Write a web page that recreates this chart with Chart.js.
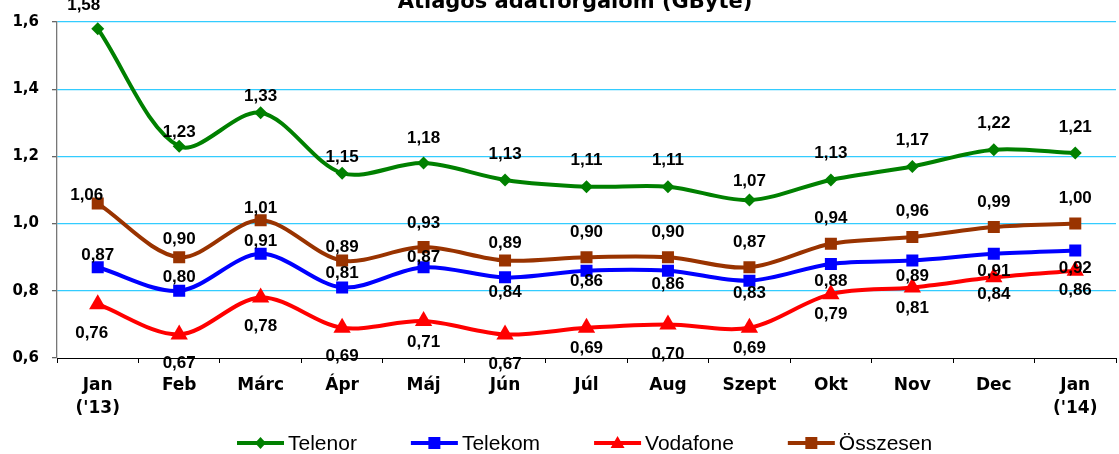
<!DOCTYPE html>
<html>
<head>
<meta charset="utf-8">
<script src="https://cdn.jsdelivr.net/npm/chart.js@4/dist/chart.umd.min.js"></script>
<style>
  html,body{margin:0;padding:0;background:#fff;overflow:hidden;}
  #wrap{position:relative;width:1126px;height:454px;}
</style>
</head>
<body>
<div id="wrap"><canvas id="c"></canvas></div>
<script>
/* ---- data ---- */
const chartTitle = 'Átlagos adatforgalom (GByte)';
const months = [['Jan',"('13)"],'Feb','Márc','Ápr','Máj','Jún','Júl','Aug','Szept','Okt','Nov','Dec',['Jan',"('14)"]];
const telenor  = [1.58,1.23,1.33,1.15,1.18,1.13,1.11,1.11,1.07,1.13,1.17,1.22,1.21];
const telekom  = [0.87,0.80,0.91,0.81,0.87,0.84,0.86,0.86,0.83,0.88,0.89,0.91,0.92];
const vodafone = [0.76,0.67,0.78,0.69,0.71,0.67,0.69,0.70,0.69,0.79,0.81,0.84,0.86];
const osszesen = [1.06,0.90,1.01,0.89,0.93,0.89,0.90,0.90,0.87,0.94,0.96,0.99,1.00];
const yTicks = [0.6,0.8,1.0,1.2,1.4,1.6];

/* label placement (px from the point), like Excel put them */
const dyTelenor  = [-23,-14,-16,-16,-25,-26,-26,-26,-19,-27,-26,-26,-26];
const dyTelekom  = [-12,-13,-13,-14,-10,15,11,14,13,17,16,17,18];
const dyVodafone = [29,29,29,29,21,30,21,30,21,20,21,17,20];
const dyOsszesen = [-8,-18,-12,-13,-24,-17,-25,-25,-25,-25,-26,-25,-25];
const dxFirst    = [-14,0,-6,-11];

const fmt = v => v.toFixed(2).replace('.', ',');
const AXISFONT = '"DejaVu Sans", "Liberation Sans", sans-serif';
const ARIAL = '"Liberation Sans", Arial, sans-serif';

const series = [
  {label:'Telenor',  data:telenor,  color:'#008000', style:'rectRot', r:6.5, dy:dyTelenor},
  {label:'Telekom',  data:telekom,  color:'#0000ff', style:'rect',    r:8.5, dy:dyTelekom},
  {label:'Vodafone', data:vodafone, color:'#ff0000', style:'triangle',r:10,  dy:dyVodafone},
  {label:'Összesen', data:osszesen, color:'#993300', style:'rect',    r:8.5, dy:dyOsszesen}
];

/* value labels + title + legend with line and marker */
const decor = {
  id:'decor',
  afterDatasetsDraw(chart){
    const ctx = chart.ctx;
    ctx.save();
    ctx.font = 'bold 17px ' + ARIAL;
    ctx.fillStyle = '#000';
    ctx.textAlign = 'center';
    ctx.textBaseline = 'middle';
    series.forEach((s, di) => {
      const meta = chart.getDatasetMeta(di);
      meta.data.forEach((pt, i) => {
        const dx = i === 0 ? dxFirst[di] : 0;
        ctx.fillText(fmt(s.data[i]), pt.x + dx, pt.y + s.dy[i]);
      });
    });
    ctx.restore();
  },
  afterDraw(chart){
    const ctx = chart.ctx;
    ctx.save();
    // title, mostly cut off at the top like the reference
    ctx.font = 'bold 21px ' + AXISFONT;
    ctx.fillStyle = '#000';
    ctx.textAlign = 'center';
    ctx.textBaseline = 'alphabetic';
    ctx.fillText(chartTitle, 575, 8);

    // legend
    ctx.font = '21px ' + ARIAL;
    ctx.textBaseline = 'middle';
    ctx.textAlign = 'left';
    let x = 237;
    const y = 443;
    series.forEach(s => {
      ctx.strokeStyle = s.color;
      ctx.fillStyle = s.color;
      ctx.lineWidth = 4;
      ctx.beginPath(); ctx.moveTo(x, y); ctx.lineTo(x + 47, y); ctx.stroke();
      const cx = x + 23.5;
      ctx.beginPath();
      if (s.style === 'rectRot') {
        ctx.moveTo(cx, y - 6); ctx.lineTo(cx + 5.5, y); ctx.lineTo(cx, y + 6); ctx.lineTo(cx - 5.5, y);
      } else if (s.style === 'triangle') {
        ctx.moveTo(cx, y - 7); ctx.lineTo(cx + 7, y + 5); ctx.lineTo(cx - 7, y + 5);
      } else {
        ctx.rect(cx - 6, y - 6, 12, 12);
      }
      ctx.closePath(); ctx.fill();
      ctx.fillStyle = '#000';
      const tx = x + 51;
      ctx.fillText(s.label, tx, y + 1);
      x = tx + ctx.measureText(s.label).width + 54;
    });
    ctx.restore();
  }
};

new Chart(document.getElementById('c'), {
  type:'line',
  data:{
    labels: months,
    datasets: series.map(s => ({
      label: s.label,
      data: s.data,
      borderColor: s.color,
      backgroundColor: s.color,
      borderWidth: 4,
      tension: 0.32,
      pointStyle: s.style,
      pointRadius: s.r,
      pointBorderWidth: 0,
      pointHoverRadius: s.r,
      fill: false
    }))
  },
  options:{
    responsive:true,
    maintainAspectRatio:false,
    animation:false,
    layout:{padding:{top:18, right:3, bottom:36, left:0}},
    plugins:{legend:{display:false}, title:{display:false}, tooltip:{enabled:false}},
    scales:{
      x:{
        offset:true,
        grid:{display:true, drawOnChartArea:false, offset:true, tickLength:5, tickColor:'#000'},
        border:{color:'#000', width:1},
        ticks:{color:'#000', padding:11, maxRotation:0, autoSkip:false,
               font:{family:AXISFONT, size:17, weight:'bold', lineHeight:1.35}},
        afterFit(scale){ scale.height = 60; }
      },
      y:{
        min:0.6, max:1.6,
        afterBuildTicks(scale){ scale.ticks = yTicks.map(v => ({value:v})); },
        grid:{color: c => c.tick && Math.abs(c.tick.value - 0.6) < 1e-6 ? 'rgba(0,0,0,0)' : '#33ccff',
              lineWidth:1.3, tickLength:5, tickColor:'#666'},
        border:{color:'#777', width:1.3},
        ticks:{color:'#000', padding:13,
               font:{family:AXISFONT, size:15, weight:'bold'},
               callback: v => v.toFixed(1).replace('.', ',')},
        afterFit(scale){ scale.width = 57; }
      }
    }
  },
  plugins:[decor]
});
</script>
</body>
</html>
